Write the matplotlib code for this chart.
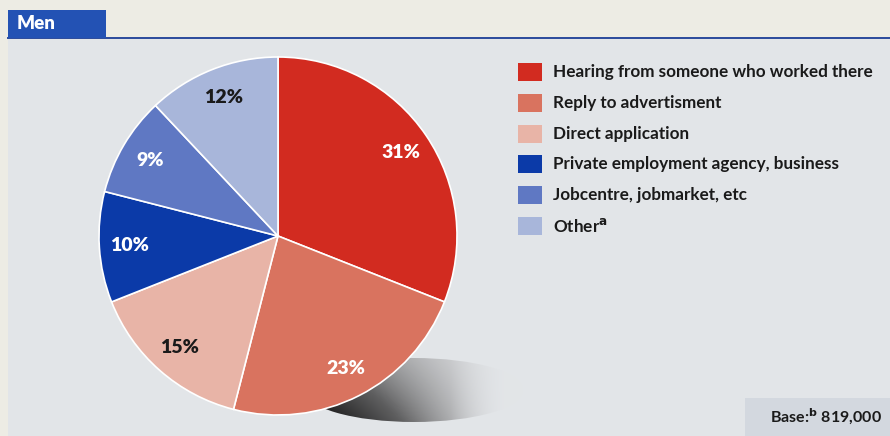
import numpy as np
import matplotlib.pyplot as plt
from matplotlib.patches import Rectangle, Ellipse

plt.rcParams['font.family'] = ['Lato', 'DejaVu Sans']

categories = [
    "Hearing from someone who worked there",
    "Reply to advertisment",
    "Direct application",
    "Private employment agency, business",
    "Jobcentre, jobmarket, etc",
    "Other$^{\\mathbf{a}}$",
]
shares = [31, 23, 15, 10, 9, 12]
colors = ["#d22b20", "#d9735f", "#e8b4a7", "#0b3aa8", "#5f78c3", "#a8b6da"]
label_colors = ["white", "white", "#1a1a1a", "white", "white", "#1a1a1a"]
title = "Men"
base_note = "Base:$^{\\mathbf{b}}$ 819,000"

W, H = 890, 436
fig = plt.figure(figsize=(W / 100, H / 100), dpi=100)
fig.patch.set_facecolor("#edece4")
ax = fig.add_axes([0, 0, 1, 1])

# panel and header tab
ax.add_patch(Rectangle((8, 0), W - 8, H - 39, facecolor="#e2e5e8", edgecolor="none", zorder=0))
ax.plot([8, W], [H - 38.5, H - 38.5], color="#2a4a9c", lw=1.4, zorder=1)
ax.add_patch(Rectangle((8, H - 38), 98, 28, facecolor="#2352b4", edgecolor="none", zorder=1))
ax.text(17, H - 24, title, color="white", fontsize=13.5, fontweight="heavy", va="center", ha="left", zorder=2)

# base box
ax.add_patch(Rectangle((745, 0), W - 745, 38, facecolor="#d3d8df", edgecolor="none", zorder=1))
ax.text(882, 19, base_note, color="#1a1a1a", fontsize=11.5, fontweight="bold", va="center", ha="right", zorder=2)

# cast shadow under the pie
cx, cy, r = 278, H - 236, 179
sh = Ellipse((414, H - 390), 220, 64, facecolor="none", edgecolor="none")
ax.add_patch(sh)
xs = np.linspace(0, 1, 300)
ys = np.linspace(0, 1, 100)
gx, gy = np.meshgrid(xs, ys)
dark = np.clip(1 - gx * 1.1, 0, 1) ** 0.8 * (0.6 + 0.4 * gy)
shade = 0.9 - 0.9 * dark
alpha = np.clip(0.3 + 1.2 * dark, 0, 1) * np.clip((1 - gx) * 3, 0, 1)
img = np.clip(np.dstack([shade, shade, shade * 1.01, alpha]), 0, 1)
im = ax.imshow(img, extent=(304, 524, H - 422, H - 358), origin="upper", zorder=1, interpolation="bilinear")
im.set_clip_path(sh)

wedges, texts, autotexts = ax.pie(
    shares, colors=colors, startangle=90, counterclock=False,
    center=(cx, cy), radius=r, autopct="%d%%", pctdistance=0.83,
    wedgeprops=dict(edgecolor="white", linewidth=1.2),
    textprops=dict(fontsize=14, fontweight="heavy"),
    frame=True,
)
for w in wedges:
    w.set_zorder(3)
for t, c in zip(autotexts, label_colors):
    t.set_color(c)
    t.set_zorder(4)
ax.set_xlim(0, W)
ax.set_ylim(0, H)
ax.set_aspect("equal")
ax.axis("off")

# legend
for i, (lab, col) in enumerate(zip(categories, colors)):
    ytop = H - 63 - i * 30.8
    ax.add_patch(Rectangle((518, ytop - 18), 24, 18, facecolor=col, edgecolor="none", zorder=3))
    ax.text(553, ytop - 9, lab, fontsize=12.3, fontweight="bold", color="#1a1a1a", va="center", ha="left", zorder=3)

fig.savefig("out.png", dpi=100, facecolor=fig.get_facecolor())
